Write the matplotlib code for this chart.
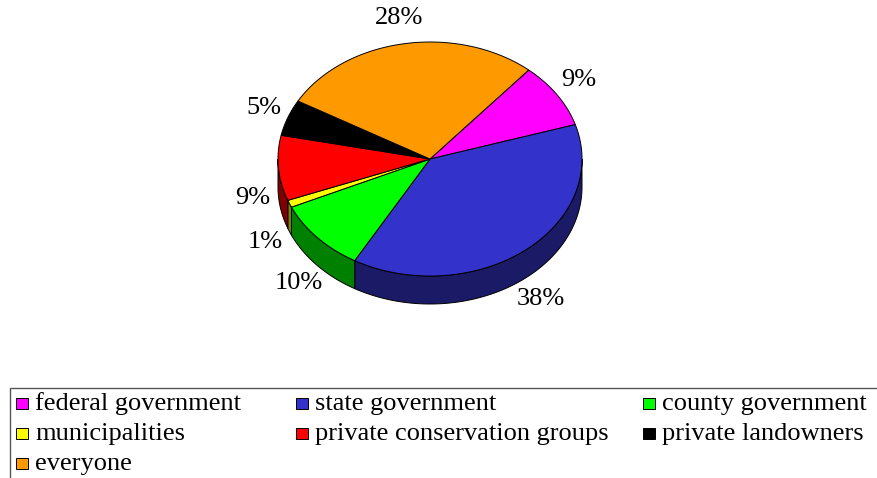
import numpy as np
import matplotlib
matplotlib.use("Agg")
import matplotlib.pyplot as plt
from matplotlib.patches import Polygon, Rectangle

categories = ["federal government", "state government", "county government",
              "municipalities", "private conservation groups",
              "private landowners", "everyone"]
values = [9, 38, 10, 1, 9, 5, 28]
labels = ["9%", "38%", "10%", "1%", "9%", "5%", "28%"]
top_colors = ["#FF00FF", "#3333CC", "#00FF00", "#FFFF00", "#FF0000", "#000000", "#FF9900"]
side_colors = ["#800080", "#1A1A66", "#008000", "#808000", "#800000", "#000000", "#804C00"]

W, H = 877, 478
fig = plt.figure(figsize=(W / 100, H / 100), dpi=100)
ax = fig.add_axes([0, 0, 1, 1])
ax.set_xlim(0, W)
ax.set_ylim(H, 0)
ax.axis("off")

cx, cy, rx, ry, depth = 430, 159, 152, 117, 28
start = 49.5
font = "Liberation Serif"
fs = 19
label_gap = 26

def pt(theta_deg, dy=0.0):
    t = np.radians(theta_deg)
    return cx + rx * np.cos(t), cy - ry * np.sin(t) + dy

total = sum(values)
angles = []
a = start
for v in values:
    a2 = a - 360.0 * v / total
    angles.append((a, a2))
    a = a2

# sides (front half only: angles in [-180, 0])
for (a1, a2), sc in zip(angles, side_colors):
    lo, hi = max(a2, -180.0), min(a1, 0.0)
    if hi <= lo:
        continue
    th = np.linspace(lo, hi, 80)
    top = [pt(t) for t in th]
    bot = [pt(t, depth) for t in th[::-1]]
    ax.add_patch(Polygon(top + bot, closed=True, facecolor=sc,
                         edgecolor="black", linewidth=0.7, zorder=2))

# top faces
for (a1, a2), tc in zip(angles, top_colors):
    th = np.linspace(a1, a2, 120)
    poly = [(cx, cy)] + [pt(t) for t in th]
    ax.add_patch(Polygon(poly, closed=True, facecolor=tc,
                         edgecolor="black", linewidth=0.7, zorder=3))

# labels
for (a1, a2), lab in zip(angles, labels):
    m = (a1 + a2) / 2
    t = np.radians(m)
    ex, ey = pt(m, depth if np.sin(t) < 0 else 0)
    x = ex + label_gap * np.cos(t)
    y = ey - label_gap * np.sin(t)
    ax.text(x, y, lab, ha="center", va="center", fontsize=fs, family=font, zorder=4)

# legend box
ax.add_patch(Rectangle((10, 388), W + 10, 100, facecolor="white",
                       edgecolor="#555555", linewidth=1.0, zorder=1, clip_on=True))
col_x = [16, 296, 643]
row_base = [410, 440, 470]
order = [(0, 0), (0, 1), (0, 2), (1, 0), (1, 1), (1, 2), (2, 0)]
for (r, c), name, col in zip(order, categories, top_colors):
    x0 = col_x[c]
    yb = row_base[r]
    ax.add_patch(Rectangle((x0, yb - 12), 12, 11, facecolor=col,
                           edgecolor="black", linewidth=0.7, zorder=5))
    ax.text(x0 + 19, yb, name, ha="left", va="baseline", fontsize=fs,
            family=font, zorder=5)

fig.savefig("out.png", dpi=100)
